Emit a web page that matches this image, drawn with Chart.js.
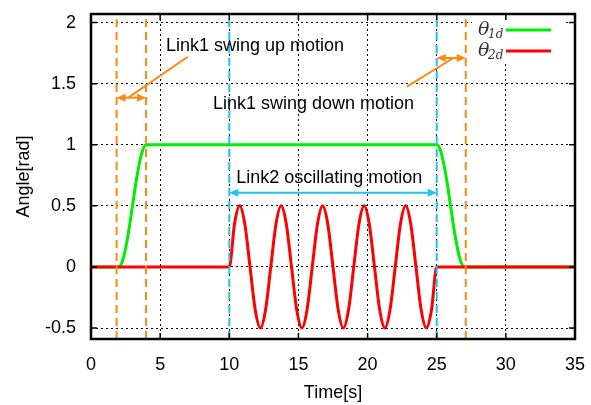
<!DOCTYPE html>
<html>
<head>
<meta charset="utf-8">
<script src="https://cdn.jsdelivr.net/npm/chart.js@4.4.1/dist/chart.umd.min.js"></script>
<style>
  html, body { margin: 0; padding: 0; background: #fff; }
  #wrap { width: 591px; height: 405px; }
</style>
</head>
<body>
<div id="wrap"><canvas id="angleChart" width="591" height="405"></canvas></div>
<script>
// desired link angles
const theta1Time  = [0, 2, 2.25, 2.5, 2.75, 3, 3.25, 3.5, 3.75, 4, 25, 25.25, 25.5, 25.75, 26, 26.25, 26.5, 26.75, 27, 35];
const theta1Value = [0, 0, 0.04, 0.15, 0.31, 0.5, 0.69, 0.85, 0.96, 1, 1, 0.96, 0.85, 0.69, 0.5, 0.31, 0.15, 0.04, 0, 0];

const theta2Time = [0,
  10, 10.375, 10.75, 11.125, 11.5, 11.875, 12.25, 12.625,
  13, 13.375, 13.75, 14.125, 14.5, 14.875, 15.25, 15.625,
  16, 16.375, 16.75, 17.125, 17.5, 17.875, 18.25, 18.625,
  19, 19.375, 19.75, 20.125, 20.5, 20.875, 21.25, 21.625,
  22, 22.375, 22.75, 23.125, 23.5, 23.875, 24.25, 24.625,
  25, 35];
const theta2Value = [0,
  0, 0.35, 0.5, 0.35, 0, -0.35, -0.5, -0.35,
  0, 0.35, 0.5, 0.35, 0, -0.35, -0.5, -0.35,
  0, 0.35, 0.5, 0.35, 0, -0.35, -0.5, -0.35,
  0, 0.35, 0.5, 0.35, 0, -0.35, -0.5, -0.35,
  0, 0.35, 0.5, 0.35, 0, -0.35, -0.5, -0.35,
  0, 0];

// phase boundaries (vertical dashed lines)
const orangeMarkers = [1.85, 3.98, 27.1];
const cyanMarkers = [10, 25];

const xMin = 0, xMax = 35, xStep = 5;
const yMin = -0.59, yMax = 2.07, yStep = 0.5;

const FONT = '"Liberation Sans", Arial, sans-serif';
const ORANGE = '#ff8a10';
const CYAN = '#1cc4ee';

function toPoints(xs, ys) {
  return xs.map((x, i) => ({ x: x, y: ys[i] }));
}

function markerSet(x, color) {
  return {
    data: [{ x: x, y: yMin }, { x: x, y: yMax }],
    borderColor: color,
    borderWidth: 2,
    borderDash: [8, 5],
    pointRadius: 0,
    order: 0
  };
}

function arrowHead(ctx, tx, ty, dx, dy) {
  const len = 9, half = 4;
  ctx.beginPath();
  ctx.moveTo(tx, ty);
  ctx.lineTo(tx - dx * len - dy * half, ty - dy * len + dx * half);
  ctx.lineTo(tx - dx * len + dy * half, ty - dy * len - dx * half);
  ctx.closePath();
  ctx.fill();
}

function doubleArrow(ctx, x1, x2, yPix, color) {
  ctx.strokeStyle = color;
  ctx.fillStyle = color;
  ctx.lineWidth = 2;
  ctx.beginPath();
  ctx.moveTo(x1 + 4, yPix);
  ctx.lineTo(x2 - 4, yPix);
  ctx.stroke();
  arrowHead(ctx, x1, yPix, -1, 0);
  arrowHead(ctx, x2, yPix, 1, 0);
}

const annotationPlugin = {
  id: 'annotations',
  afterDatasetsDraw(chart) {
    const { ctx, scales: { x, y } } = chart;
    ctx.save();

    // Link1 swing up
    doubleArrow(ctx, x.getPixelForValue(orangeMarkers[0]), x.getPixelForValue(orangeMarkers[1]), y.getPixelForValue(1.385), ORANGE);
    ctx.beginPath();
    ctx.moveTo(x.getPixelForValue(7.0), y.getPixelForValue(1.72));
    ctx.lineTo(x.getPixelForValue(2.7), y.getPixelForValue(1.385));
    ctx.stroke();

    // Link1 swing down
    doubleArrow(ctx, x.getPixelForValue(cyanMarkers[1]), x.getPixelForValue(orangeMarkers[2]), y.getPixelForValue(1.71), ORANGE);
    ctx.beginPath();
    ctx.moveTo(x.getPixelForValue(22.85), y.getPixelForValue(1.475));
    ctx.lineTo(x.getPixelForValue(26.2), y.getPixelForValue(1.71));
    ctx.stroke();

    // Link2 oscillating
    doubleArrow(ctx, x.getPixelForValue(cyanMarkers[0]), x.getPixelForValue(cyanMarkers[1]), y.getPixelForValue(0.607), CYAN);

    ctx.fillStyle = '#000';
    ctx.font = '18px ' + FONT;
    ctx.textAlign = 'left';
    ctx.textBaseline = 'middle';
    ctx.fillText('Link1 swing up motion', x.getPixelForValue(5.42), y.getPixelForValue(1.81));
    ctx.fillText('Link1 swing down motion', x.getPixelForValue(8.82), y.getPixelForValue(1.33));
    ctx.fillText('Link2 oscillating motion', x.getPixelForValue(10.5), y.getPixelForValue(0.73));
    ctx.restore();
  },
  afterDraw(chart) {
    const { ctx, chartArea: a, scales: { x, y } } = chart;
    ctx.save();

    // legend box
    ctx.fillStyle = '#fff';
    ctx.fillRect(a.right - 103, a.top + 1, 91, 47);
    const rows = [['1d', '#00ee00'], ['2d', '#ff0000']];
    rows.forEach((r, i) => {
      const cy = a.top + 16 + i * 21;
      ctx.fillStyle = '#333';
      ctx.textBaseline = 'middle';
      ctx.textAlign = 'left';
      ctx.font = 'italic 19px "DejaVu Serif", serif';
      ctx.fillText('θ', a.right - 97, cy);
      ctx.font = 'italic 12px "DejaVu Serif", serif';
      ctx.fillText(r[0], a.right - 87, cy + 5);
      ctx.strokeStyle = r[1];
      ctx.lineWidth = 3;
      ctx.beginPath();
      ctx.moveTo(a.right - 69, cy);
      ctx.lineTo(a.right - 24, cy);
      ctx.stroke();
    });

    // inner tick marks on all four sides
    ctx.strokeStyle = '#000';
    ctx.lineWidth = 1.5;
    ctx.beginPath();
    x.ticks.forEach(t => {
      const px = x.getPixelForValue(t.value);
      ctx.moveTo(px, a.bottom); ctx.lineTo(px, a.bottom - 6);
      ctx.moveTo(px, a.top); ctx.lineTo(px, a.top + 6);
    });
    y.ticks.forEach(t => {
      const py = y.getPixelForValue(t.value);
      ctx.moveTo(a.left, py); ctx.lineTo(a.left + 6, py);
      ctx.moveTo(a.right, py); ctx.lineTo(a.right - 6, py);
    });
    ctx.stroke();

    // frame
    ctx.lineWidth = 2.5;
    ctx.strokeRect(a.left, a.top, a.right - a.left, a.bottom - a.top);
    ctx.restore();
  }
};

const datasets = [];
orangeMarkers.forEach(m => datasets.push(markerSet(m, ORANGE)));
cyanMarkers.forEach(m => datasets.push(markerSet(m, CYAN)));
datasets.push({
  label: 'theta2d',
  data: toPoints(theta2Time, theta2Value),
  borderColor: '#ff0000',
  borderWidth: 3,
  pointRadius: 0,
  cubicInterpolationMode: 'monotone',
  order: 1
});
datasets.push({
  label: 'theta1d',
  data: toPoints(theta1Time, theta1Value),
  borderColor: '#00ee00',
  borderWidth: 3,
  pointRadius: 0,
  cubicInterpolationMode: 'monotone',
  order: 2
});

new Chart(document.getElementById('angleChart'), {
  type: 'line',
  data: { datasets: datasets },
  options: {
    responsive: false,
    animation: false,
    layout: { padding: { top: 14, right: 16, left: 0, bottom: 0 } },
    plugins: { legend: { display: false }, tooltip: { enabled: false } },
    scales: {
      x: {
        type: 'linear',
        min: xMin,
        max: xMax,
        afterFit: s => { s.height = 66; s.paddingLeft = 0; s.paddingRight = 0; },
        ticks: { stepSize: xStep, color: '#000', padding: 15, font: { family: FONT, size: 18 } },
        grid: { color: '#000', lineWidth: 1, drawTicks: false },
        border: { display: false, dash: [2, 3] },
        title: { display: true, text: 'Time[s]', color: '#000', font: { family: FONT, size: 18 }, padding: { top: 0, bottom: 1 } }
      },
      y: {
        type: 'linear',
        min: yMin,
        max: yMax,
        afterFit: s => { s.width = 91; s.paddingTop = 0; s.paddingBottom = 0; },
        afterBuildTicks: s => {
          const t = [];
          for (let v = -0.5; v <= 2.0001; v += yStep) t.push({ value: Math.round(v * 10) / 10 });
          s.ticks = t;
        },
        ticks: { color: '#000', padding: 15, font: { family: FONT, size: 18 }, callback: v => String(v) },
        grid: { color: '#000', lineWidth: 1, drawTicks: false },
        border: { display: false, dash: [2, 3] },
        title: { display: true, text: 'Angle[rad]', color: '#000', font: { family: FONT, size: 18 }, padding: { top: 13, bottom: 0 } }
      }
    }
  },
  plugins: [annotationPlugin]
});
</script>
</body>
</html>
